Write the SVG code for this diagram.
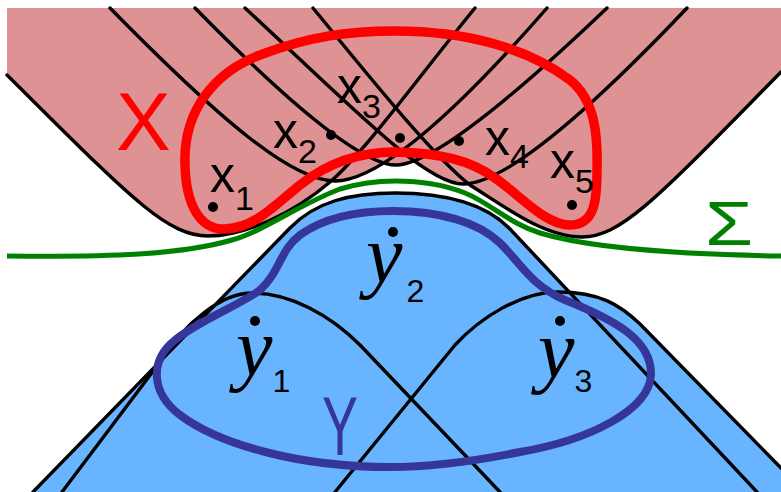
<svg xmlns="http://www.w3.org/2000/svg" width="781" height="492" viewBox="0 0 781 492">
<style>
.edge{fill:none;stroke:#000;stroke-width:3.4;stroke-linecap:round;stroke-linejoin:round}
.pink{fill:#df9293}
.blue{fill:#68b4ff}
.dot{fill:#000}
.lbl{font-family:"Liberation Sans",Arial,sans-serif;fill:#000;font-size:50px}
.sub{font-size:34px}
.ylbl{font-family:"Liberation Serif","Times New Roman",serif;font-style:italic;font-size:82px;fill:#000}
.ysub{font-family:"Liberation Sans",Arial,sans-serif;font-style:normal;font-size:32px}
</style>
<rect width="781" height="492" fill="#fff"/>
<g id="upper-region">
  <path class="pink" d="M 7,75 C 128,195 166,236 208,236 C 246,236 295,212 330,182 C 365,152 420,75 475,8 L 7,8 Z"/>
  <path class="pink" d="M 110,8 C 220,120 292,181 335,181 C 375,181 445,125 547,8 Z"/>
  <path class="pink" d="M 195,8 C 300,115 365,165 396,165 C 427,165 500,110 607,8 Z"/>
  <path class="pink" d="M 245,8 C 350,105 425,184 463,184 C 505,184 590,110 687,8 Z"/>
  <path class="pink" d="M 781,72 C 660,195 622,237 582,237 C 544,237 505,207 470,185 C 432,155 368,75 313,8 L 781,8 Z"/>
  <path class="edge" d="M 7,75 C 128,195 166,236 208,236 C 246,236 295,212 330,182 C 365,152 420,75 475,8"/>
  <path class="edge" d="M 110,8 C 220,120 292,181 335,181 C 375,181 445,125 547,8"/>
  <path class="edge" d="M 195,8 C 300,115 365,165 396,165 C 427,165 500,110 607,8"/>
  <path class="edge" d="M 245,8 C 350,105 425,184 463,184 C 505,184 590,110 687,8"/>
  <path class="edge" d="M 781,72 C 660,195 622,237 582,237 C 544,237 505,207 470,185 C 432,155 368,75 313,8"/>
</g>
<g id="lower-region">
  <path class="blue" d="M 33,492 L 290,228 C 315,202 350,193 395,193 C 445,193 485,203 510,229 L 757,492 Z"/>
  <path class="blue" d="M 62,492 L 160,362 C 185,322 222,293 252,293 C 290,293 330,315 360,345 L 500,492 Z"/>
  <path class="blue" d="M 335,492 L 455,345 C 480,318 520,292 558,292 C 600,292 620,305 640,324 L 781,468 L 781,492 Z"/>
  <path class="edge" d="M 33,492 L 290,228 C 315,202 350,193 395,193 C 445,193 485,203 510,229 L 757,492"/>
  <path class="edge" d="M 62,492 L 160,362 C 185,322 222,293 252,293 C 290,293 330,315 360,345 L 500,492"/>
  <path class="edge" d="M 335,492 L 455,345 C 480,318 520,292 558,292 C 600,292 620,305 640,324 L 781,468"/>
</g>
<g id="sigma">
  <path d="M 7,256 C 110,257 180,255 232,240 C 262,232 300,204 340,189 C 360,183 375,181 395,181 C 420,181 445,185 465,193 C 490,203 510,224 540,233 C 580,245 650,254 781,256" fill="none" stroke="#008000" stroke-width="5"/>
  <text x="705" y="245" font-family="'Liberation Sans',Arial,sans-serif" font-size="63" fill="#008000" textLength="48" lengthAdjust="spacingAndGlyphs">Σ</text>
</g>
<g id="set-X">
  <path d="M 185,165 C 183,110 215,72 260,55 C 310,36 350,31 395,31 C 470,31 530,50 570,80 C 595,100 598,135 597,170 C 597,200 595,225 570,225 C 545,225 520,195 495,178 C 470,160 440,153 395,152 C 355,152 325,165 300,185 C 275,205 255,228 225,229 C 200,230 186,205 185,165 Z" fill="none" stroke="#ff0000" stroke-width="9.5"/>
  <text x="116" y="150" font-family="'Liberation Sans',Arial,sans-serif" font-size="82" fill="#ff0000">X</text>
</g>
<g id="set-Y">
  <path d="M 393,211 C 440,211 478,222 500,243 C 520,262 530,285 565,300 C 615,320 652,340 651,375 C 649,410 590,440 520,452 C 470,462 430,467 390,467 C 300,467 220,445 180,415 C 150,392 150,360 175,340 C 200,320 240,305 260,290 C 280,272 280,250 300,235 C 325,217 360,211 393,211 Z" fill="none" stroke="#363699" stroke-width="8"/>
  <text x="322" y="455" font-family="'Liberation Sans',Arial,sans-serif" font-size="84" fill="#363699" textLength="36" lengthAdjust="spacingAndGlyphs">Y</text>
</g>
<g id="x1"><circle class="dot" cx="213" cy="207" r="5"/><text class="lbl" x="210" y="192">x<tspan class="sub" dy="18">1</tspan></text></g>
<g id="x2"><circle class="dot" cx="331" cy="135" r="5"/><text class="lbl" x="273" y="148">x<tspan class="sub" dy="15">2</tspan></text></g>
<g id="x3"><circle class="dot" cx="400" cy="138" r="5"/><text class="lbl" x="337" y="103">x<tspan class="sub" dy="15">3</tspan></text></g>
<g id="x4"><circle class="dot" cx="459" cy="141" r="5"/><text class="lbl" x="485" y="155">x<tspan class="sub" dy="13">4</tspan></text></g>
<g id="x5"><circle class="dot" cx="572" cy="205" r="5"/><text class="lbl" x="550" y="178">x<tspan class="sub" dy="15">5</tspan></text></g>
<g id="y1"><circle class="dot" cx="255" cy="321" r="5"/><text class="ylbl" x="236" y="375">y<tspan class="ysub" dy="17">1</tspan></text></g>
<g id="y2"><circle class="dot" cx="393" cy="232" r="5"/><text class="ylbl" x="366" y="282">y<tspan class="ysub" dx="4" dy="20">2</tspan></text></g>
<g id="y3"><circle class="dot" cx="560" cy="321" r="5"/><text class="ylbl" x="538" y="377">y<tspan class="ysub" dy="15">3</tspan></text></g>
</svg>
